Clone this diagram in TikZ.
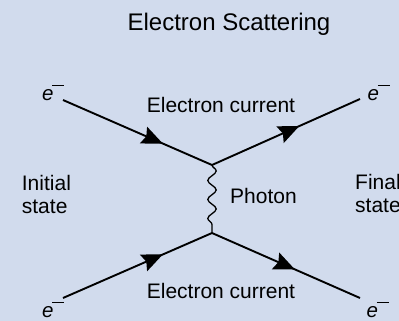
\documentclass[tikz,border=0pt]{standalone}
\usepackage{fontspec}
\setmainfont{Liberation Sans}
\usetikzlibrary{arrows.meta,decorations.pathmorphing,decorations.markings}
\definecolor{bg}{RGB}{209,219,237}
\newcommand{\elec}{\textit{e}\kern-1.2pt\rule[13.8pt]{12pt}{1.3pt}}
\tikzset{
  lbl/.style={inner sep=0pt, font=\fontsize{21}{23}\selectfont},
  ttl/.style={inner sep=0pt, font=\fontsize{24}{28}\selectfont},
  elab/.style={inner sep=0pt, anchor=base west, font=\fontsize{20.5}{23}\selectfont},
  fermion/.style={line width=1.9pt, postaction={decorate},
    decoration={markings, mark=at position #1 with {\arrow{Stealth[length=21pt,width=18pt,inset=3pt]}}}},
  photon/.style={line width=1.3pt, decorate,
    decoration={snake, segment length=19pt, amplitude=4.2pt}}
}
\begin{document}
\begin{tikzpicture}[x=1pt,y=-1pt]
\fill[bg] (0,0) rectangle (399,321);
\useasboundingbox (0,0) rectangle (399,321);
\node[ttl, anchor=base] (title) at (229,30.7) {Electron Scattering};
\coordinate (a) at (63,100);
\coordinate (b) at (360,99);
\coordinate (c) at (63,298);
\coordinate (d) at (360,298);
\coordinate (v1) at (212,165);
\coordinate (v2) at (212,233);
\draw[fermion=0.67] (a) -- (v1);
\draw[fermion=0.59] (v1) -- (b);
\draw[fermion=0.67] (c) -- (v2);
\draw[fermion=0.56] (v2) -- (d);
\draw[photon] (v1) -- (v2);
\node[lbl, anchor=base] (ect) at (221,112.5) {Electron current};
\node[lbl, anchor=base] (ecb) at (221,298) {Electron current};
\node[lbl, anchor=base west] (ph) at (230,203) {Photon};
\node[lbl, anchor=base west, align=left] (ini) at (21.7,213) {Initial\\state};
\node[lbl, anchor=base west, align=left] (fin) at (355,212.5) {Final\\state};
\node[elab] (ea) at (42,100) {\elec};
\node[elab] (eb) at (367.5,100) {\elec};
\node[elab] (ec) at (42,317) {\elec};
\node[elab] (ed) at (366.5,317) {\elec};
\end{tikzpicture}
\end{document}
